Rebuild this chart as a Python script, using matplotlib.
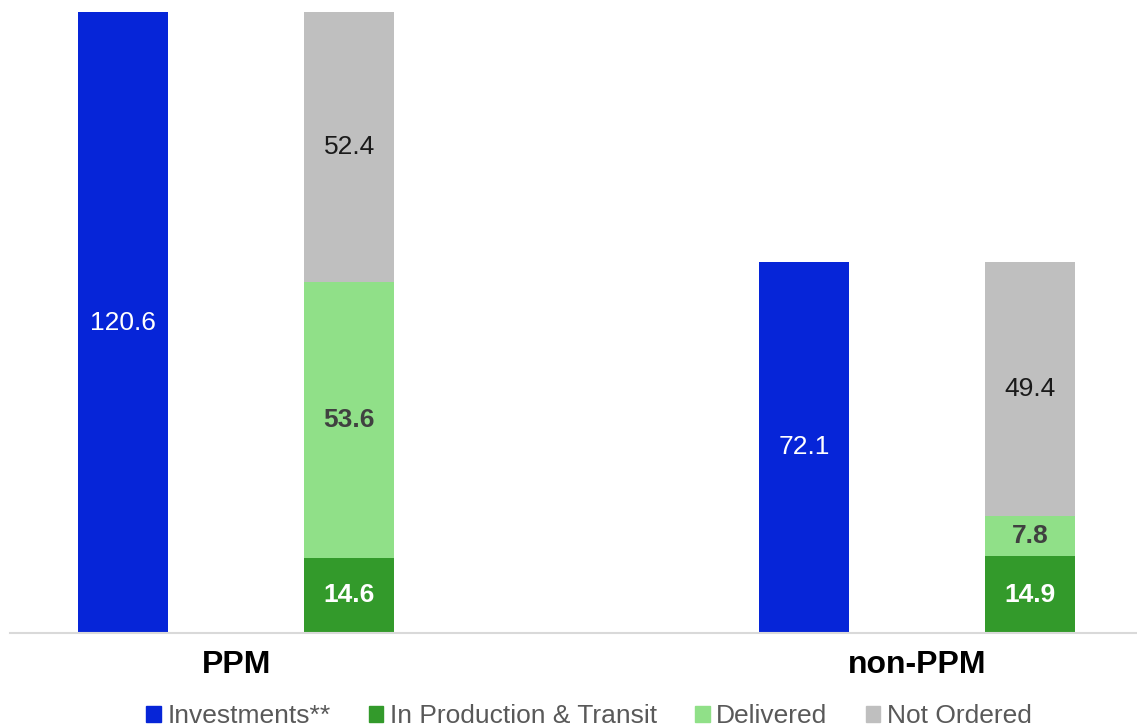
import numpy as np
import matplotlib.pyplot as plt
from matplotlib.patches import Patch

plt.rcParams['font.family'] = ['Liberation Sans', 'DejaVu Sans']

categories = ['PPM', 'non-PPM']
investments = [120.6, 72.1]
in_production = [14.6, 14.9]
delivered = [53.6, 7.8]
not_ordered = [52.4, 49.4]

c_inv = '#0625d8'
c_prod = '#339a2b'
c_deliv = '#90e088'
c_notord = '#bfbfbf'

fig = plt.figure(figsize=(11.37, 7.27), dpi=100)
ax = fig.add_axes([10 / 1137, 94 / 727, 1127 / 1137, 621 / 727])

x = np.arange(len(categories))
off = 0.166
w = 0.132

ax.bar(x - off, investments, w, color=c_inv)
ax.bar(x + off, in_production, w, color=c_prod)
ax.bar(x + off, delivered, w, bottom=in_production, color=c_deliv)
b2 = np.array(in_production) + np.array(delivered)
ax.bar(x + off, not_ordered, w, bottom=b2, color=c_notord)

fs = 19
for i in range(len(categories)):
    ax.text(x[i] - off, investments[i] / 2, f'{investments[i]:.1f}', ha='center', va='center',
            color='white', fontsize=fs)
    ax.text(x[i] + off, in_production[i] / 2, f'{in_production[i]:.1f}', ha='center', va='center',
            color='white', fontsize=fs, fontweight='bold')
    ax.text(x[i] + off, in_production[i] + delivered[i] / 2, f'{delivered[i]:.1f}', ha='center',
            va='center', color='#404040', fontsize=fs, fontweight='bold')
    ax.text(x[i] + off, b2[i] + not_ordered[i] / 2, f'{not_ordered[i]:.1f}', ha='center',
            va='center', color='#1a1a1a', fontsize=fs)

ax.set_xlim(-0.332, 1.323)
ax.set_ylim(0, 120.6)
ax.set_xticks(x)
ax.set_xticklabels(categories, fontsize=23, fontweight='bold')
ax.tick_params(axis='x', length=0, pad=12)
ax.set_yticks([])
for s in ['top', 'right', 'left']:
    ax.spines[s].set_visible(False)
ax.spines['bottom'].set_color('#d9d9d9')
ax.spines['bottom'].set_linewidth(1.5)

handles = [Patch(color=c_inv, label='Investments**'),
           Patch(color=c_prod, label='In Production & Transit'),
           Patch(color=c_deliv, label='Delivered'),
           Patch(color=c_notord, label='Not Ordered')]
leg = fig.legend(handles=handles, loc='center', bbox_to_anchor=(0.518, 1 - 716 / 727), ncol=4,
                 frameon=False, fontsize=19, handlelength=0.55, handleheight=0.55,
                 handletextpad=0.25, columnspacing=1.45)
for t in leg.get_texts():
    t.set_color('#595959')

fig.savefig('out.png', dpi=100)
